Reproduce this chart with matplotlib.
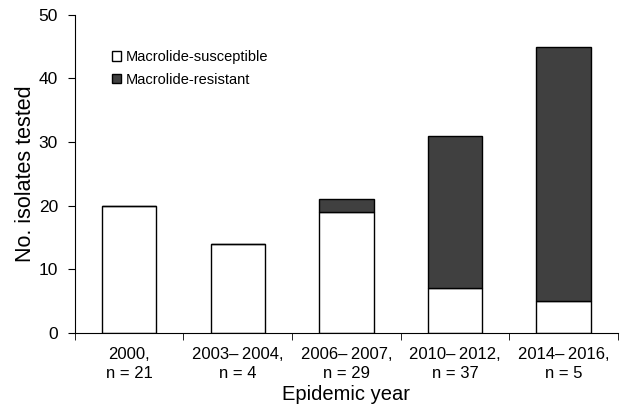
import numpy as np
import matplotlib.pyplot as plt

plt.rcParams['font.family'] = ['Liberation Sans', 'DejaVu Sans']

periods = ["2000,\nn = 21", "2003\u2013\u20092004,\nn = 4", "2006\u2013\u20092007,\nn = 29",
           "2010\u2013\u20092012,\nn = 37", "2014\u2013\u20092016,\nn = 5"]
susceptible = [20, 14, 19, 7, 5]
resistant = [0, 0, 2, 24, 40]

fig = plt.figure(figsize=(6.28, 4.09), dpi=100)
ax = fig.add_axes([0.119, 0.186, 0.865, 0.778])

x = np.arange(len(periods))
ax.bar(x, susceptible, width=0.5, color="white", edgecolor="black",
       linewidth=1, label="Macrolide-susceptible")
ax.bar(x, resistant, width=0.5, bottom=susceptible, color="#404040",
       edgecolor="black", linewidth=1, label="Macrolide-resistant")

ax.set_xlim(-0.5, len(periods) - 0.5)
ax.set_ylim(0, 50)
ax.set_yticks(range(0, 51, 10))
ax.set_xticks(x)
ax.set_xticklabels(periods, fontsize=12, linespacing=1.35)
ax.set_xticks(np.arange(-0.5, len(periods), 1), minor=True)
ax.tick_params(axis="x", which="major", length=0, pad=10)
ax.tick_params(axis="x", which="minor", length=5, direction="out")
ax.tick_params(axis="y", labelsize=12.5, length=5, direction="out", pad=7)

for s in ["top", "right"]:
    ax.spines[s].set_visible(False)

ax.set_ylabel("No. isolates tested", fontsize=15.5, labelpad=2)
ax.set_xlabel("Epidemic year", fontsize=14.5, labelpad=3)

ax.legend(loc="upper left", bbox_to_anchor=(0.045, 0.93), frameon=False,
          fontsize=10.5, handlelength=0.6, handleheight=0.6,
          handletextpad=0.3, labelspacing=0.6)

fig.savefig("out.png", dpi=100)
